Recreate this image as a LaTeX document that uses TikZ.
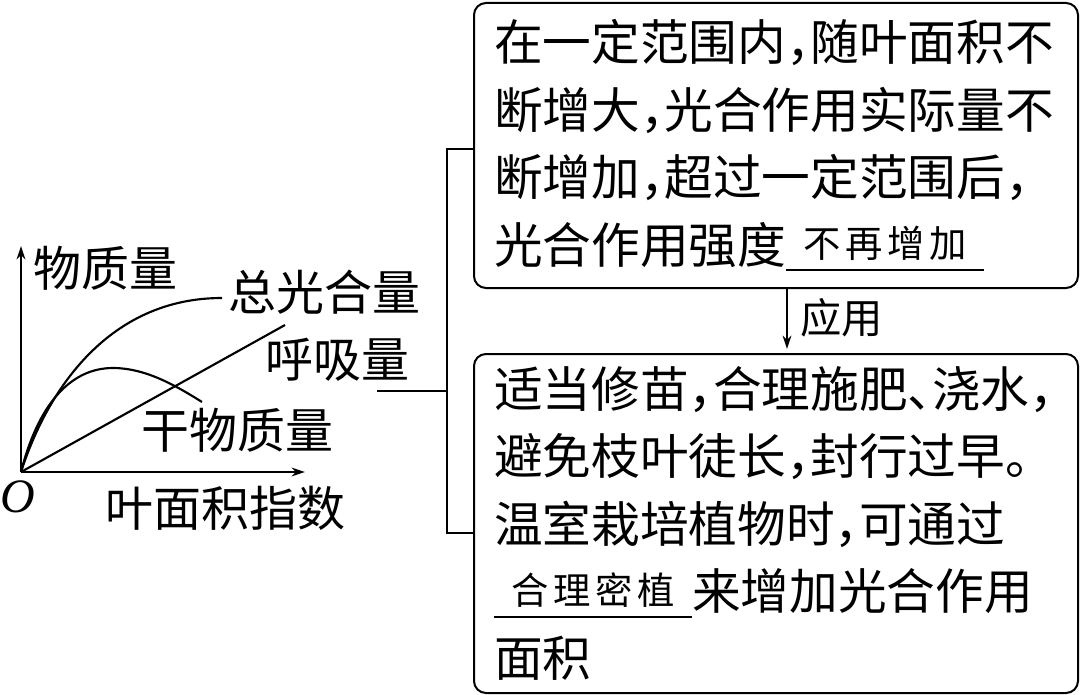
\documentclass[tikz,border=0pt]{standalone}
\usepackage{fontspec}
\setmainfont{Noto Sans CJK SC}[RawFeature=+halt]
\newfontfamily\latinfont{Liberation Serif}
\newfontfamily\answerfont{Noto Sans CJK SC}[LetterSpace=12]
\usetikzlibrary{arrows.meta,calc}

\newcommand{\fillin}[2]{\makebox[0pt][l]{\rule[-0.17em]{#1}{1.6pt}}\makebox[#1][c]{\raisebox{4pt}{\answerfont\fontsize{28}{30}\selectfont #2}}}

\tikzset{
  box/.style={draw, line width=1.5pt, rounded corners=9pt, anchor=north west,
    minimum width=453pt, text width=423pt, inner xsep=15pt, align=left,
    font=\fontsize{36.5}{50.6}\selectfont},
  lbl/.style={inner sep=0pt, font=\fontsize{36}{40}\selectfont},
  line/.style={line width=1.6pt},
  arr/.style={line width=1.6pt, -{Stealth[length=10pt,width=6.5pt]}},
}

\begin{document}
\begin{tikzpicture}[x=0.75pt,y=0.75pt,yscale=-1,xscale=1]
\useasboundingbox (0,0) rectangle (1080,695);

%Axes
\coordinate (O) at (21,472);
\coordinate (ytop) at (21,246);
\coordinate (xend) at (305,472);
\draw[arr] (O) -- (ytop);
\draw[arr] (O) -- (xend);

%Curve Lines
\draw[line] (O) .. controls (48,388) and (110,298) .. (222,298);
\draw[line] (O) .. controls (38,405) and (70,368) .. (113,368) .. controls (145,368) and (175,385) .. (202,402);
%Straight Lines
\draw[line] (O) -- (285,325);

% Text Node
\node (origin) at (18,497) {\latinfont\itshape\fontsize{36}{38}\selectfont O};
\node (yname) [lbl] at (105,268) {物质量};
\node (xname) [lbl] at (225,508) {叶面积指数};
\node (total) [lbl] at (324,292) {总光合量};
\node (resp) [lbl] at (337,360) {呼吸量};
\node (dry) [lbl] at (237,430) {干物质量};

%Shape: Rounded Rect
\node (rule) [box, minimum height=213.75pt] at (473,2)
  {在一定范围内，随叶面积不\\
   断增大，光合作用实际量不\\
   断增加，超过一定范围后，\\
   光合作用强度\fillin{148.5pt}{不再增加}};
%Shape: Rounded Rect
\node (use) [box, minimum height=254.25pt] at (473,353)
  {适当修苗，合理施肥、浇水，\\
   避免枝叶徒长，封行过早。\\
   温室栽培植物时，可通过\\
   \fillin{148.5pt}{合理密植}来增加光合作用\\
   面积};

% Connectors
\coordinate (graphend) at (377,391);
\coordinate (brk) at (447,391);
\coordinate (apply) at (787,320);
\draw[line] (graphend) -- (brk);
\draw[line] ($(rule.west)+(0,3.5)$) -| (brk) |- ($(use.west)+(0,9.5)$);
\draw[arr, shorten >=3pt] (rule.south -| apply) -- (use.north -| apply);
\node (applylbl) [lbl, anchor=west, font=\fontsize{31}{34}\selectfont] at (800,318) {应用};

\end{tikzpicture}
\end{document}
